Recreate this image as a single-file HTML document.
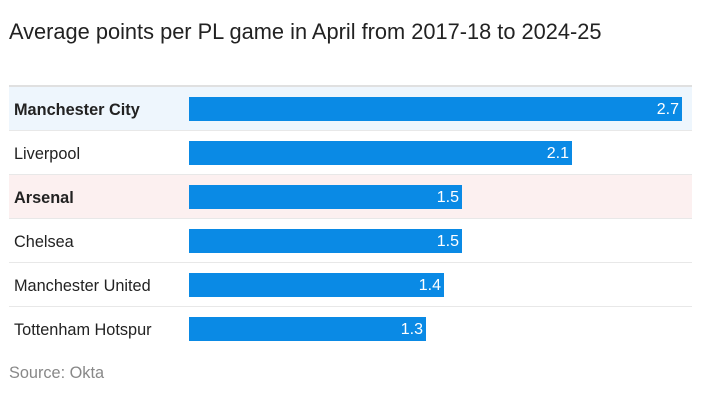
<!DOCTYPE html>
<html><head><meta charset="utf-8"><style>
body{margin:0;width:720px;height:404px;background:#fff;font-family:"Liberation Sans",sans-serif;position:relative;overflow:hidden}
.t{position:absolute;left:9px;top:19px;font-size:21.8px;color:#222}
.row{position:absolute;left:9px;width:683px;height:43px;border-bottom:1px solid #e8e8e8}
.lab{position:absolute;left:5px;top:2px;line-height:43px;font-size:16.3px;color:#222}
.b{font-weight:bold}
.bar{position:absolute;left:180px;top:10px;height:24px;background:#0a8ae5;color:#fff;font-size:16px;line-height:26px;text-align:right;box-sizing:border-box;padding-right:3px}
.s{position:absolute;left:9px;top:364px;font-size:16.3px;color:#888}
</style></head><body>
<div class="t">Average points per PL game in April from 2017-18 to 2024-25</div>
<div style="position:absolute;left:9px;top:85px;width:683px;height:2px;background:#e0e0e0"></div>
<div class="row" style="top:87px;background:#eef6fd"><div class="lab b">Manchester City</div><div class="bar" style="width:493px">2.7</div></div>
<div class="row" style="top:131px"><div class="lab">Liverpool</div><div class="bar" style="width:383px">2.1</div></div>
<div class="row" style="top:175px;background:#fcf0f0"><div class="lab b">Arsenal</div><div class="bar" style="width:273px">1.5</div></div>
<div class="row" style="top:219px"><div class="lab">Chelsea</div><div class="bar" style="width:273px">1.5</div></div>
<div class="row" style="top:263px"><div class="lab">Manchester United</div><div class="bar" style="width:255px">1.4</div></div>
<div class="row" style="top:307px;border-bottom:none"><div class="lab">Tottenham Hotspur</div><div class="bar" style="width:237px">1.3</div></div>
<div class="s">Source: Okta</div>
</body></html>
